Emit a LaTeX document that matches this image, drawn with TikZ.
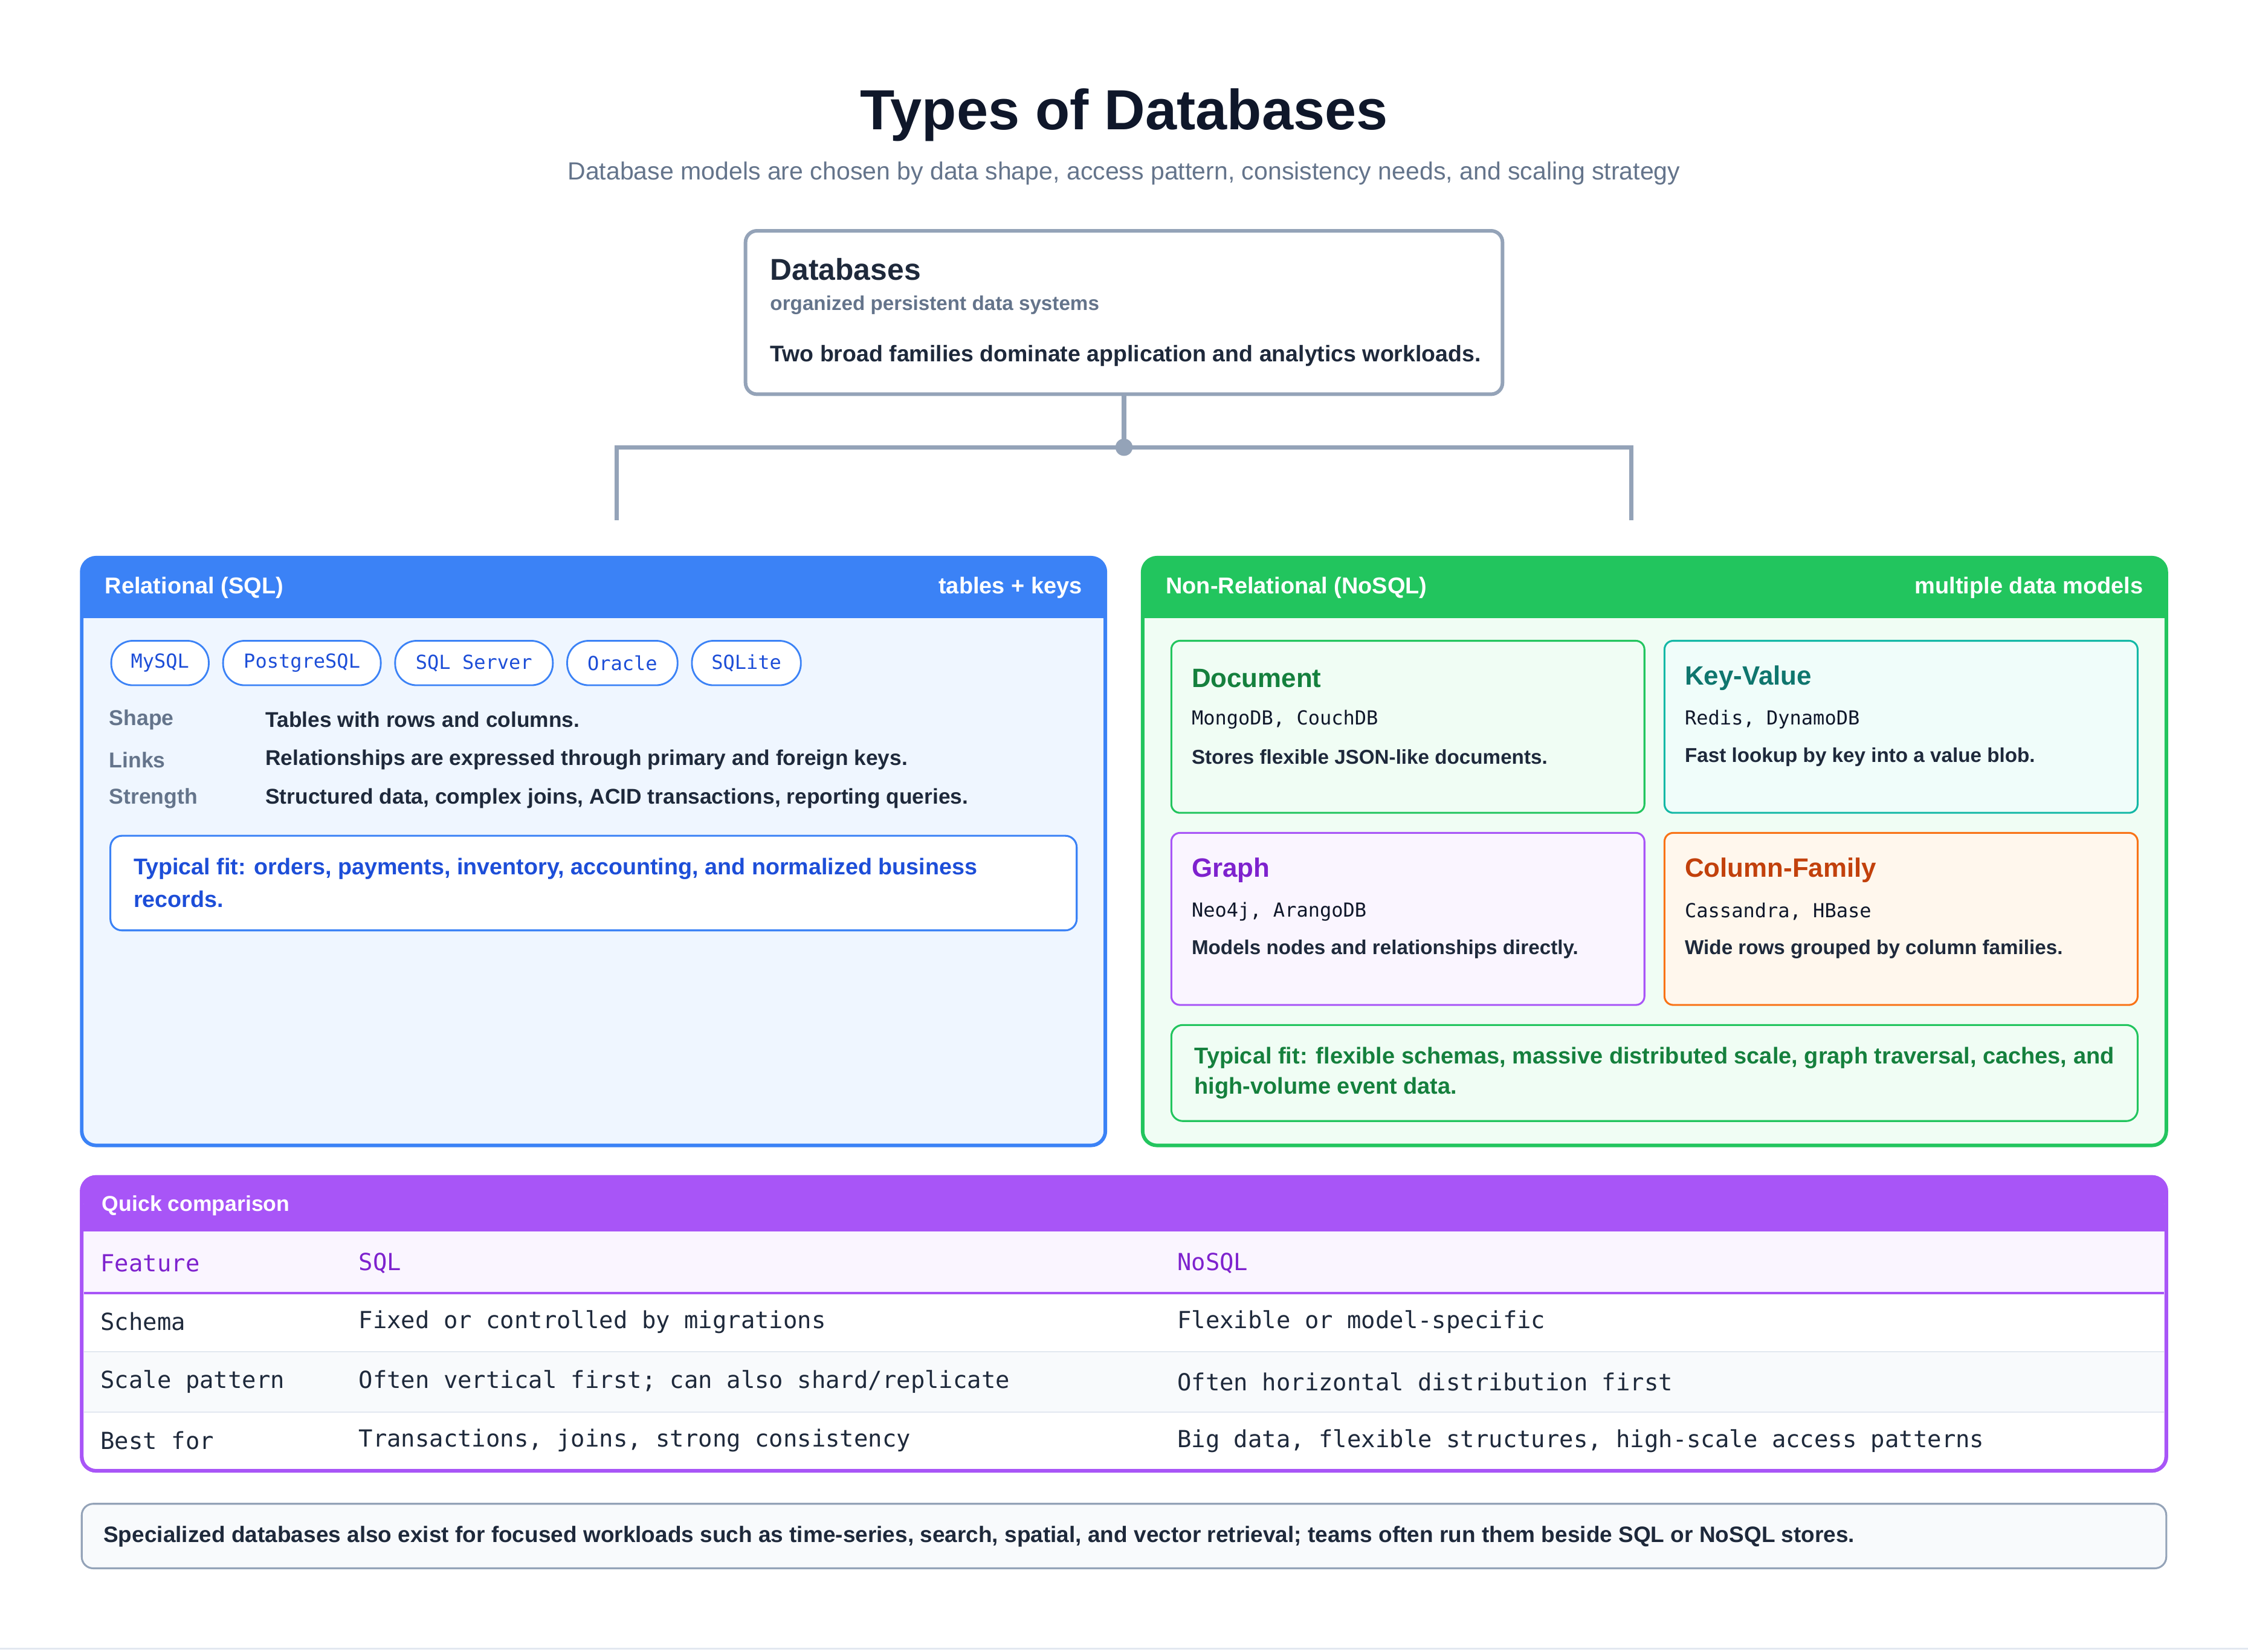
\documentclass[tikz,border=0pt]{standalone}
\usepackage{fontspec}
\setmainfont{Liberation Sans}
\setmonofont{DejaVu Sans Mono}
\definecolor{ink}{HTML}{0F172A}
\definecolor{dark}{HTML}{1E293B}
\definecolor{muted}{HTML}{64748B}
\definecolor{slateb}{HTML}{94A3B8}
\definecolor{blueh}{HTML}{3B82F6}
\definecolor{bluebg}{HTML}{EFF6FF}
\definecolor{bluet}{HTML}{1D4ED8}
\definecolor{greenh}{HTML}{22C55E}
\definecolor{greenbg}{HTML}{F0FDF4}
\definecolor{greent}{HTML}{15803D}
\definecolor{tealb}{HTML}{14B8A6}
\definecolor{tealbg}{HTML}{F0FDFA}
\definecolor{tealt}{HTML}{0F766E}
\definecolor{purh}{HTML}{A855F7}
\definecolor{purbg}{HTML}{FAF5FF}
\definecolor{purt}{HTML}{7E22CE}
\definecolor{orb}{HTML}{F97316}
\definecolor{orbg}{HTML}{FFF7ED}
\definecolor{ort}{HTML}{C2410C}
\definecolor{rowbg}{HTML}{F8FAFC}
\definecolor{linec}{HTML}{E2E8F0}
\newcommand{\fs}[1]{\fontsize{#1}{#1}\selectfont}
\tikzset{
 txt/.style={anchor=west,inner sep=0pt,text=dark},
 pill/.style={draw=blueh,line width=1.2pt,rounded corners=15pt,fill=white,text=bluet,font=\ttfamily\fs{13.5},minimum height=31pt,inner sep=0pt,anchor=west},
 card/.style={rounded corners=6pt,line width=1.3pt},
}
\begin{document}
\begin{tikzpicture}[x=1pt,y=-1pt]
\useasboundingbox[fill=white] (0,0) rectangle (1568,1152);
% title
\node[inner sep=0pt,text=ink,font=\bfseries\fs{39.5}] (title) at (784,80) {Types of Databases};
\node[inner sep=0pt,text=muted,font=\fs{17.3}] (sub) at (784,121) {Database models are chosen by data shape, access pattern, consistency needs, and scaling strategy};
% root
\draw[draw=slateb,line width=2.5pt,rounded corners=8pt,fill=white] (520,161) rectangle (1048,275);
\coordinate (rootb) at (784,275);
\node[txt,font=\bfseries\fs{21}] (rt) at (537,188) {Databases};
\node[txt,text=muted,font=\bfseries\fs{14}] (rs) at (537,213) {organized persistent data systems};
\node[txt,font=\bfseries\fs{15.8}] (rd) at (537,248) {Two broad families dominate application and analytics workloads.};
\coordinate (hub) at (784,312);
\coordinate (lt) at (430,363);
\coordinate (rtc) at (1138,363);
\draw[slateb,line width=3pt] (rootb) -- (hub);
\draw[slateb,line width=3pt] (lt) |- (hub) -| (rtc);
\fill[slateb] (hub) circle (6pt);
% SQL panel
\draw[blueh,line width=2.5pt,fill=bluebg,rounded corners=10pt] (57,389) rectangle (771,799);
\fill[blueh,rounded corners=10pt] (57,389) rectangle (771,420);
\fill[blueh] (57,410) rectangle (771,431);
\node[txt,text=white,font=\bfseries\fs{16}] (sqlh) at (73,410) {Relational (SQL)};
\node[anchor=east,inner sep=0pt,text=white,font=\bfseries\fs{16}] (sqlr) at (755,410) {tables + keys};
\node[pill,minimum width=68pt] (p1) at (77,462.5) {MySQL};
\node[pill,minimum width=110pt] (p2) at (155,462.5) {PostgreSQL};
\node[pill,minimum width=110pt] (p3) at (275,462.5) {SQL Server};
\node[pill,minimum width=77pt] (p4) at (395,462.5) {Oracle};
\node[pill,minimum width=76pt] (p5) at (482,462.5) {SQLite};
\foreach \n/\y/\a/\b in {a/502/Shape/Tables with rows and columns.,b/530/Links/Relationships are expressed through primary and foreign keys.,c/557/Strength/{Structured data, complex joins, ACID transactions, reporting queries.}}{
 \node[txt,text=muted,font=\bfseries\fs{15}] (l\n) at (76,\y) {\a};
 \node[txt,font=\bfseries\fs{14.9}] (v\n) at (185,\y) {\b};
}
\draw[blueh,line width=1.3pt,fill=white,rounded corners=8pt] (77,583) rectangle (751,649);
\node[txt,text=bluet,font=\bfseries\fs{15.9}] (sf1) at (93,606) {Typical fit: orders, payments, inventory, accounting, and normalized business};
\node[txt,text=bluet,font=\bfseries\fs{15.9}] (sf2) at (93,627) {records.};
% NoSQL panel
\draw[greenh,line width=2.5pt,fill=greenbg,rounded corners=10pt] (797,389) rectangle (1511,799);
\fill[greenh,rounded corners=10pt] (797,389) rectangle (1511,420);
\fill[greenh] (797,410) rectangle (1511,431);
\node[txt,text=white,font=\bfseries\fs{16}] (nh) at (813,410) {Non-Relational (NoSQL)};
\node[anchor=east,inner sep=0pt,text=white,font=\bfseries\fs{16}] (nr) at (1495,410) {multiple data models};
\foreach \n/\x/\y/\bc/\bg/\tc/\t/\m/\d in {
 d/817/447/greenh/greenbg/greent/Document/{MongoDB, CouchDB}/Stores flexible JSON-like documents.,
 k/1161/447/tealb/tealbg/tealt/Key-Value/{Redis, DynamoDB}/Fast lookup by key into a value blob.,
 g/817/581/purh/purbg/purt/Graph/{Neo4j, ArangoDB}/Models nodes and relationships directly.,
 c/1161/581/orb/orbg/ort/Column-Family/{Cassandra, HBase}/Wide rows grouped by column families.}{
 \draw[card,draw=\bc,fill=\bg] (\x,\y) rectangle ++(330,120);
 \node[txt,text=\tc,font=\bfseries\fs{18.5}] (t\n) at (\x+14,\y+26) {\t};
 \node[txt,text=ink,font=\ttfamily\fs{13.5}] (m\n) at (\x+14,\y+55) {\m};
 \node[txt,text=dark,font=\bfseries\fs{14}] (d\n) at (\x+14,\y+81) {\d};
}
\draw[greenh,line width=1.3pt,fill=greenbg,rounded corners=8pt] (817,715) rectangle (1491,782);
\node[txt,text=greent,font=\bfseries\fs{16}] (nf1) at (833,738) {Typical fit: flexible schemas, massive distributed scale, graph traversal, caches, and};
\node[txt,text=greent,font=\bfseries\fs{16}] (nf2) at (833,759) {high-volume event data.};
% comparison
\draw[purh,line width=2.5pt,fill=white,rounded corners=10pt] (57,821) rectangle (1511,1026);
\fill[purh,rounded corners=10pt] (57,821) rectangle (1511,845);
\fill[purh] (57,840) rectangle (1511,859);
\fill[purbg] (58.5,859) rectangle (1509.5,902);
\fill[rowbg] (58.5,943) rectangle (1509.5,985);
\draw[linec,line width=1pt] (58.5,943) -- (1509.5,943) (58.5,985) -- (1509.5,985);
\draw[purh,line width=1.5pt] (58.5,902) -- (1509.5,902);
\draw[purh,line width=2.5pt,rounded corners=10pt] (57,821) rectangle (1511,1026);
\node[txt,text=white,font=\bfseries\fs{15}] (qc) at (71,841) {Quick comparison};
\node[txt,text=purt,font=\ttfamily\fs{16.4}] (h1) at (70,881) {Feature};
\node[txt,text=purt,font=\ttfamily\fs{16.4}] (h2) at (250,881) {SQL};
\node[txt,text=purt,font=\ttfamily\fs{16.4}] (h3) at (821,881) {NoSQL};
\foreach \n/\y/\a/\b/\c in {
 1/922/Schema/Fixed or controlled by migrations/Flexible or model-specific,
 2/964/Scale pattern/Often vertical first; can also shard\slash replicate/Often horizontal distribution first,
 3/1005/Best for/{Transactions, joins, strong consistency}/{Big data, flexible structures, high-scale access patterns}}{
 \node[txt,text=dark,font=\ttfamily\fs{16.4}] (ra\n) at (70,\y) {\a};
 \node[txt,text=dark,font=\ttfamily\fs{16.4}] (rb\n) at (250,\y) {\b};
 \node[txt,text=dark,font=\ttfamily\fs{16.4}] (rc\n) at (821,\y) {\c};
}
% note
\draw[slateb,line width=1.3pt,fill=rowbg,rounded corners=8pt] (57,1049) rectangle (1511,1094);
\node[txt,font=\bfseries\fs{15.6}] (note) at (72,1072) {Specialized databases also exist for focused workloads such as time-series, search, spatial, and vector retrieval; teams often run them beside SQL or NoSQL stores.};
\draw[linec,line width=1pt] (0,1150) -- (1568,1150);
\end{tikzpicture}
\end{document}
